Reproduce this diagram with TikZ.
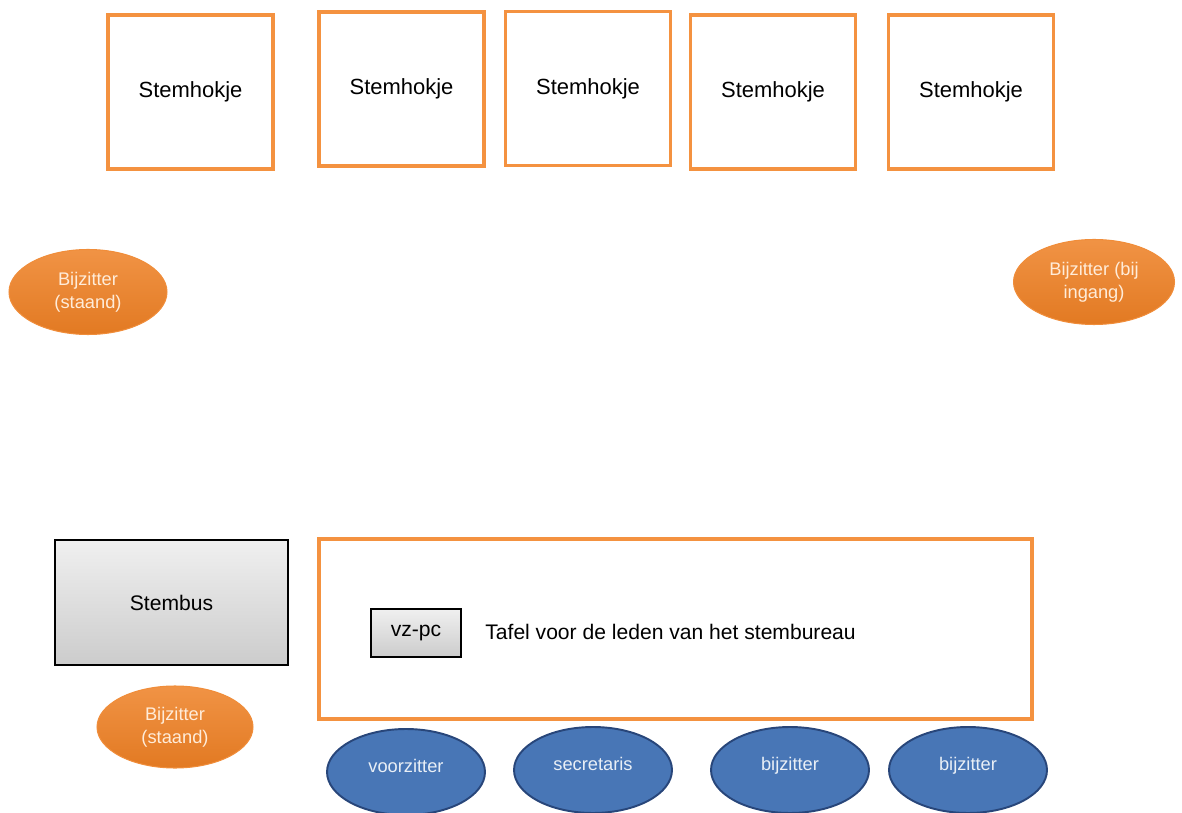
\documentclass[tikz,border=0pt]{standalone}
\usepackage{fontspec}
\setmainfont{Liberation Sans}
\usepackage{tikz}
\usetikzlibrary{shapes.geometric}
\usetikzlibrary{positioning}
\definecolor{lijnoranje}{RGB}{244,146,64}
\definecolor{vuloranje}{RGB}{238,128,36}
\definecolor{vulblauw}{RGB}{72,118,182}
\definecolor{randblauw}{RGB}{40,70,122}

\begin{document}
\begin{tikzpicture}[x=0.02cm, y=-0.02cm,
	hokje/.style={draw=lijnoranje, line width=2pt, minimum width=3.3cm, minimum height=3.08cm, font=\fontsize{12.5}{15}\selectfont},
	oranjeovaal/.style={ellipse, draw=vuloranje!90!white, line width=0.6pt, top color=vuloranje!85!white, bottom color=vuloranje!95!black, inner sep=0pt, minimum width=3.16cm, minimum height=1.7cm, align=center, text=white!85!orange, font=\fontsize{10.4}{13}\selectfont},
	blauwovaal/.style={ellipse, draw=randblauw, line width=1.1pt, fill=vulblauw, inner sep=0pt, minimum width=3.16cm, minimum height=1.72cm, text depth=0.26cm, text=white!88!vulblauw, font=\fontsize{10.4}{13}\selectfont},
	grijsbox/.style={draw=black, line width=1.1pt, top color=gray!12, bottom color=gray!40, font=\fontsize{12}{14}\selectfont}]
	\useasboundingbox (0,0) rectangle (1182,813);
	% stemhokjes
	\node[hokje] (h1) at (190.5,92) {Stemhokje};
	\node[hokje] (h2) at (401.5,89) {Stemhokje};
	\node[hokje] (h3) at (588,88.5) {Stemhokje};
	\node[hokje] (h4) at (773,92) {Stemhokje};
	\node[hokje] (h5) at (971,92) {Stemhokje};
	% bijzitters bij de hokjes
	\node[oranjeovaal] (bz1) at (88,292) {Bijzitter\\(staand)};
	\node[oranjeovaal, minimum width=3.22cm] (bz2) at (1094,282) {Bijzitter (bij\\ingang)};
	% stembus
	\node[grijsbox, minimum width=4.66cm, minimum height=2.5cm] (bus) at (171.5,602.5) {Stembus};
	\node[oranjeovaal, minimum width=3.12cm, minimum height=1.64cm] (bz3) at (175,727) {Bijzitter\\(staand)};
	% tafel
	\draw[draw=lijnoranje, line width=2pt] (319,539) rectangle (1032,719);
	\node[grijsbox, minimum width=1.8cm, minimum height=0.96cm] (pc) at (416,633) {vz-pc};
	\node[anchor=west, inner sep=0pt, font=\fontsize{12}{14}\selectfont] (tafel) at (485,632) {Tafel voor de leden van het stembureau};
	% leden
	\node[blauwovaal] (vz) at (406,772) {voorzitter};
	\node[blauwovaal] (sec) at (593,770) {secretaris};
	\node[blauwovaal] (b1) at (790,770) {bijzitter};
	\node[blauwovaal] (b2) at (968,770) {bijzitter};
\end{tikzpicture}
\end{document}
